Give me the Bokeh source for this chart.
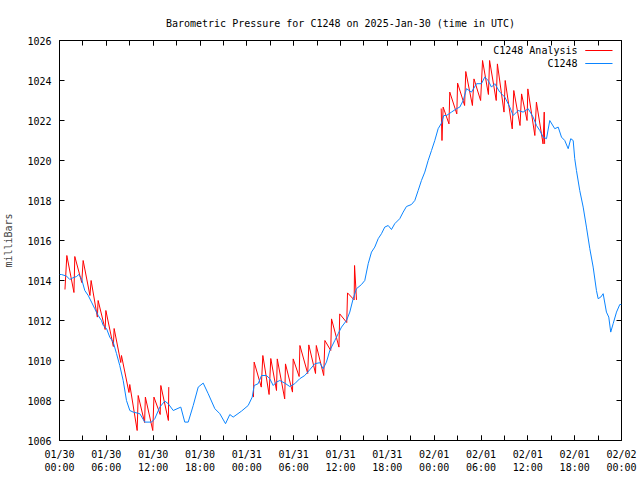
import numpy as np
import pandas as pd
from bokeh.plotting import figure
from bokeh.models import (Range1d, FixedTicker, DatetimeTickFormatter, LinearAxis,
                          DatetimeAxis, Label, CustomJSTickFormatter, ColumnDataSource)
from bokeh.embed import file_html
from bokeh.resources import INLINE

# ---------------- data ----------------
TITLE = "Barometric Pressure for C1248 on 2025-Jan-30 (time in UTC)"
Y_LABEL = "milliBars"
SERIES_NAMES = ["C1248 Analysis", "C1248"]
START = pd.Timestamp("2025-01-30 00:00")
END = pd.Timestamp("2025-02-02 00:00")
Y_TICKS = [1006, 1008, 1010, 1012, 1014, 1016, 1018, 1020, 1022, 1024, 1026]

# observed station pressure (hours after START, mb)
blue_obs = [
    (0.00, 1014.30), (0.26, 1014.30), (0.90, 1014.22), (1.32, 1014.05), (1.63, 1014.12),
    (2.18, 1014.20), (2.47, 1014.30), (2.82, 1014.09), (3.24, 1013.50), (3.68, 1013.25),
    (4.10, 1012.92), (4.52, 1012.59), (4.96, 1012.25), (5.38, 1012.00), (5.60, 1011.75),
    (6.02, 1011.60), (6.44, 1011.17), (6.88, 1010.92), (7.30, 1010.35), (7.72, 1009.75),
    (8.16, 1009.00), (8.58, 1008.00), (9.01, 1007.50), (9.44, 1007.42), (10.29, 1007.34),
    (10.93, 1006.92), (11.79, 1006.92), (12.21, 1007.09), (12.85, 1007.67), (13.49, 1007.97),
    (13.93, 1007.84), (14.57, 1007.50), (15.54, 1007.67), (16.05, 1006.92), (16.49, 1006.92),
    (17.13, 1007.75), (17.77, 1008.67), (18.41, 1008.87), (19.05, 1008.34), (19.90, 1007.59),
    (20.54, 1007.34), (21.27, 1006.84), (21.82, 1007.30), (22.25, 1007.17), (23.32, 1007.47),
    (24.17, 1007.75), (24.69, 1008.17), (24.94, 1008.75), (25.45, 1008.84), (25.88, 1009.25),
    (26.52, 1009.25), (26.94, 1009.09), (27.38, 1008.75), (27.80, 1008.92), (28.22, 1009.00),
    (28.86, 1008.87), (29.50, 1008.70), (30.14, 1008.84), (30.78, 1009.09), (31.42, 1009.25),
    (32.07, 1009.54), (32.71, 1009.84), (33.35, 1009.89), (33.78, 1009.59), (34.20, 1009.92),
    (34.63, 1010.50), (35.27, 1011.00), (35.70, 1011.34), (36.13, 1011.67), (36.77, 1012.00),
    (37.19, 1012.42), (37.62, 1013.09), (38.05, 1013.59), (38.69, 1013.80), (39.11, 1014.00),
    (39.55, 1014.84), (39.97, 1015.42), (40.39, 1015.67), (40.83, 1016.09), (41.25, 1016.34),
    (41.67, 1016.67), (42.11, 1016.75), (42.53, 1016.55), (42.95, 1016.84), (43.59, 1017.09),
    (44.03, 1017.42), (44.45, 1017.70), (45.09, 1017.80), (45.52, 1018.00), (45.95, 1018.50),
    (46.37, 1019.00), (46.80, 1019.42), (47.23, 1020.00), (47.66, 1020.50), (48.08, 1021.00),
    (48.51, 1021.59), (48.94, 1021.87), (49.23, 1022.25), (49.58, 1022.25), (50.22, 1022.42),
    (50.86, 1022.59), (51.28, 1022.67), (51.72, 1023.00), (52.14, 1023.59), (52.78, 1023.42),
    (53.43, 1023.84), (54.06, 1023.84), (54.48, 1024.17), (54.92, 1024.00), (55.34, 1023.67),
    (55.77, 1023.84), (56.40, 1023.42), (57.05, 1023.17), (57.69, 1022.67), (58.12, 1022.25),
    (58.76, 1022.50), (59.40, 1022.42), (60.04, 1022.59), (60.68, 1022.17), (61.11, 1021.75),
    (61.53, 1021.50), (61.96, 1021.17), (62.39, 1021.09), (62.81, 1022.00), (63.45, 1021.59),
    (63.89, 1021.67), (64.31, 1021.17), (64.73, 1021.00), (65.17, 1020.59), (65.50, 1021.09),
    (65.81, 1021.00), (66.01, 1020.09), (66.23, 1019.50), (66.65, 1018.50), (67.09, 1017.67),
    (67.51, 1016.67), (67.94, 1015.59), (68.37, 1014.67), (68.79, 1013.50), (69.01, 1013.09),
    (69.34, 1013.17), (69.65, 1013.34), (70.07, 1012.42), (70.37, 1012.17), (70.62, 1011.42),
    (70.93, 1011.84), (71.36, 1012.42), (71.78, 1012.80), (72.00, 1012.80),
]

# analysis runs (hours after START, mb), three separate runs
analysis_run1 = [
    (0.70, 1013.55), (0.94, 1015.25), (1.85, 1013.40), (1.96, 1015.20), (2.85, 1013.90),
    (3.03, 1015.00), (3.90, 1013.25), (4.05, 1014.00), (4.85, 1012.17), (4.95, 1013.00),
    (5.85, 1011.55), (5.94, 1012.50), (6.90, 1010.70), (7.00, 1011.60), (7.85, 1009.90),
    (7.94, 1010.25), (8.90, 1008.40), (9.00, 1008.80), (9.95, 1006.50), (10.08, 1008.25),
    (10.90, 1006.90), (11.00, 1008.17), (11.95, 1006.50), (12.10, 1008.17), (12.90, 1007.30),
    (12.98, 1008.75), (13.95, 1007.00), (14.00, 1008.67),
]
analysis_run2 = [
    (24.85, 1008.17), (24.94, 1009.92), (25.85, 1008.67), (26.05, 1010.25), (26.85, 1008.30),
    (27.07, 1010.10), (27.80, 1008.50), (27.90, 1010.08), (28.85, 1008.08), (28.95, 1009.83),
    (29.85, 1008.42), (29.94, 1010.08), (30.70, 1009.20), (30.80, 1010.75), (31.80, 1009.35),
    (31.94, 1010.78), (32.80, 1009.35), (32.90, 1010.75), (33.85, 1009.25), (34.00, 1011.00),
    (34.75, 1010.50), (34.85, 1012.08), (35.80, 1010.67), (35.90, 1012.33), (36.80, 1011.90),
    (36.90, 1013.38), (37.75, 1013.03), (37.80, 1014.75), (38.05, 1013.03),
]
analysis_run3 = [
    (48.90, 1022.60), (49.00, 1021.00), (49.15, 1022.67), (49.90, 1021.83), (50.00, 1023.42),
    (50.90, 1022.33), (51.00, 1023.87), (51.90, 1022.75), (52.05, 1024.45), (52.90, 1022.75),
    (53.10, 1024.08), (53.95, 1023.00), (54.20, 1025.00), (54.95, 1023.30), (55.10, 1025.00),
    (55.95, 1023.00), (56.10, 1024.83), (56.95, 1022.42), (57.10, 1024.00), (58.00, 1021.58),
    (58.20, 1023.50), (59.00, 1021.75), (59.20, 1023.33), (59.90, 1022.00), (60.00, 1023.58),
    (60.90, 1021.25), (61.10, 1022.92), (61.95, 1020.83), (62.10, 1022.42), (62.15, 1020.83),
]

# ---------------- build ----------------
FONT = "DejaVu Sans Mono"
FS = "10px"
RED = "#ff0000"
BLUE = "#0a84ff"


def to_src(pairs):
    h = np.array([a for a, _ in pairs])
    v = np.array([b for _, b in pairs])
    t = START + pd.to_timedelta(h, unit="h")
    return ColumnDataSource(dict(t=t, v=v))


p = figure(width=640, height=480, x_axis_type="datetime",
           x_range=Range1d(START, END), y_range=Range1d(1006, 1026),
           output_backend="svg", toolbar_location=None,
           min_border_left=58, min_border_right=19, min_border_top=40, min_border_bottom=40)
p.background_fill_color = "white"
p.border_fill_color = "white"
p.outline_line_color = "black"
p.outline_line_width = 1
p.xgrid.visible = False
p.ygrid.visible = False

p.title.text = TITLE
p.title.align = "center"
p.title.text_font = FONT
p.title.text_font_size = FS
p.title.text_font_style = "normal"
p.title.text_color = "black"
p.title.standoff = 23

for run in (analysis_run1, analysis_run2, analysis_run3):
    p.line("t", "v", source=to_src(run), line_color=RED, line_width=1)
p.line("t", "v", source=to_src(blue_obs), line_color=BLUE, line_width=1)

major_x = pd.date_range(START, END, freq="6h")
minor_x = pd.date_range(START, END, freq="3h")
x_ticker = FixedTicker(ticks=list(major_x.asi8 / 1e6), minor_ticks=list(minor_x.asi8 / 1e6))
y_ticker = FixedTicker(ticks=Y_TICKS, minor_ticks=[])
blank = CustomJSTickFormatter(code="return ''")


def style(ax):
    ax.axis_line_color = None
    ax.major_tick_in = 5
    ax.major_tick_out = 0
    ax.minor_tick_in = 5
    ax.minor_tick_out = 0
    ax.major_tick_line_color = "black"
    ax.minor_tick_line_color = "black"
    ax.major_label_text_font = FONT
    ax.major_label_text_font_size = FS
    ax.major_label_text_color = "black"


xa = p.xaxis[0]
xa.ticker = x_ticker
xa.formatter = DatetimeTickFormatter(hours="%m/%d\n%H:%M", days="%m/%d\n%H:%M",
                                     months="%m/%d\n%H:%M", hourmin="%m/%d\n%H:%M")
style(xa)
xa.major_label_standoff = 8

ya = p.yaxis[0]
ya.ticker = y_ticker
style(ya)
ya.minor_tick_in = 0
ya.major_label_standoff = 8
ya.axis_label = Y_LABEL
ya.axis_label_text_font = FONT
ya.axis_label_text_font_size = FS
ya.axis_label_text_font_style = "normal"
ya.axis_label_standoff = 10

top = DatetimeAxis(ticker=x_ticker, formatter=blank)
style(top)
top.major_label_standoff = 0
p.add_layout(top, "above")

right = LinearAxis(ticker=y_ticker, formatter=blank)
style(right)
right.minor_tick_in = 0
right.major_label_standoff = 0
p.add_layout(right, "right")

# legend (text to the left of the sample, top-right corner)
span_h = (END - START) / pd.Timedelta(hours=1)
leg_y = [1025.5, 1024.85]
for name, col, yy in zip(SERIES_NAMES, [RED, BLUE], leg_y):
    p.add_layout(Label(x=END, y=yy, x_offset=-44, text=name, text_align="right",
                       text_baseline="middle", text_font=FONT, text_font_size=FS,
                       text_color="black"))
    x0 = END - pd.Timedelta(hours=span_h * 0.0645)
    x1 = END - pd.Timedelta(hours=span_h * 0.016)
    p.line([x0, x1], [yy, yy], line_color=col, line_width=1)

open("out.html", "w").write(file_html(p, INLINE))
